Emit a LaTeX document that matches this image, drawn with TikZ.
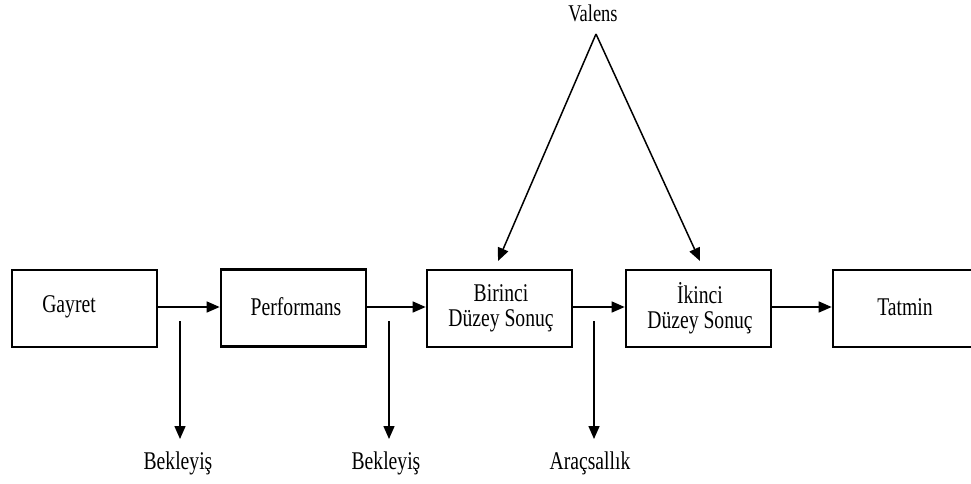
\documentclass[tikz,border=0pt]{standalone}
\usepackage{fontspec}
\setmainfont{Liberation Serif}[FakeStretch=0.77]
\usetikzlibrary{arrows.meta}
\begin{document}
\begin{tikzpicture}[x=1pt,y=-1pt,
  box/.style={draw, line width=2.7pt, minimum width=145pt, minimum height=77pt, inner sep=0pt, align=center},
  lbl/.style={inner sep=0pt, font=\fontsize{25.5}{25}\selectfont},
  arr/.style={line width=1.5pt, -{Triangle[length=13pt,width=11pt]}}]
\useasboundingbox (0,0) rectangle (971,483);
\clip (0,0) rectangle (971,483);
\node[box] (g) at (84.5,308.5) {};
\node[lbl] (gt) at (69,307) {Gayret};
\node[box] (p) at (293.5,308) {};
\node[lbl] (pt) at (296,307) {Performans};
\node[box] (b) at (499.5,308.5) {};
\node[lbl, align=center] (bt) at (501,308) {Birinci\\Düzey Sonuç};
\node[box] (i) at (698.5,308.5) {};
\node[lbl, align=center] (it) at (700,308) {İkinci\\Düzey Sonuç};
\node[box, minimum width=170pt] (t) at (918,308.5) {};
\node[lbl] (tt) at (905,307) {Tatmin};

\draw[arr] (g.east |- 0,307) -- (p.west |- 0,307);
\draw[arr] (p.east |- 0,307) -- (b.west |- 0,307);
\draw[arr] (b.east |- 0,307) -- (i.west |- 0,307);
\draw[arr] (i.east |- 0,307) -- (t.west |- 0,307);

\coordinate (s1) at (180,321); \coordinate (e1) at (180,439);
\coordinate (s2) at (389,321); \coordinate (e2) at (389,439);
\coordinate (s3) at (594,321); \coordinate (e3) at (594,439);
\draw[arr] (s1) -- (e1);
\draw[arr] (s2) -- (e2);
\draw[arr] (s3) -- (e3);
\node[lbl] (l1) at (178,463) {Bekleyiş};
\node[lbl] (l2) at (386,463) {Bekleyiş};
\node[lbl] (l3) at (590,463) {Araçsallık};

\node[lbl, font=\fontsize{24}{24}\selectfont] (v) at (593,13) {Valens};
\coordinate (apex) at (596,34);
\coordinate (vl) at (498,261);
\coordinate (vr) at (700,261);
\draw[arr] (apex) -- (vl);
\draw[arr] (apex) -- (vr);
\end{tikzpicture}
\end{document}
